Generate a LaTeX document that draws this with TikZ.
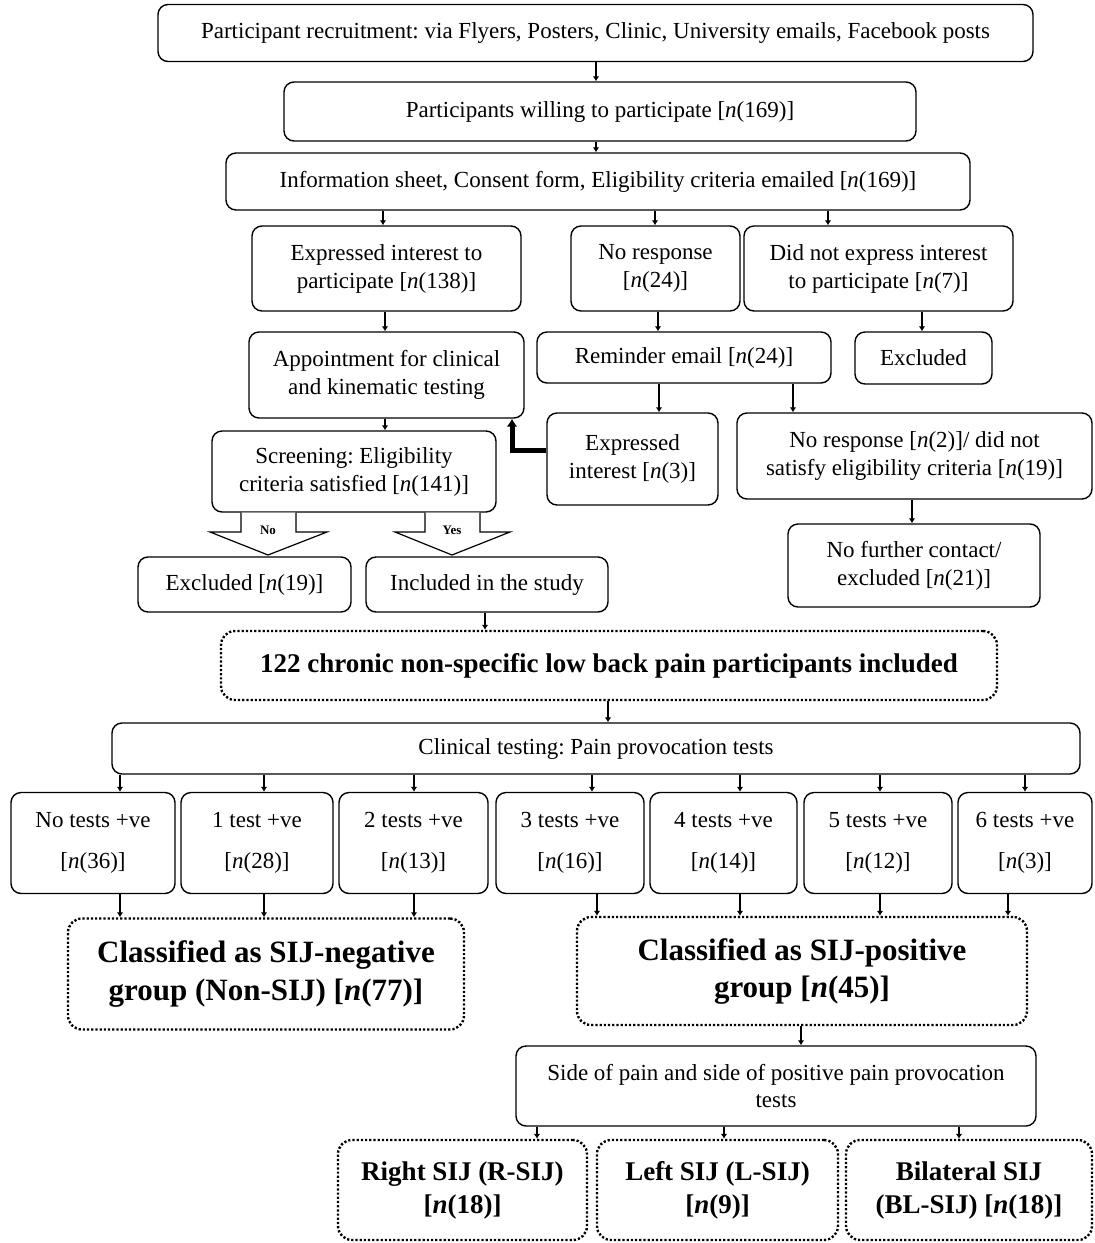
\documentclass[tikz,border=0pt]{standalone}
\usepackage{fontspec}
\setmainfont{Liberation Serif}
\usetikzlibrary{arrows.meta}
\frenchspacing
\tikzset{
  box/.style={draw, line width=1.4pt, rounded corners=10pt, align=center, inner sep=0pt,
    font=\fontsize{23}{28}\selectfont},
  dbox/.style={draw, line width=2.4pt, dash pattern=on 2.2pt off 2pt, rounded corners=14pt,
    align=center, inner sep=0pt},
  arr/.style={line width=2.6pt, -{Latex[length=5pt,width=6.5pt]}},
  bigarr/.style={line width=5pt, -{Latex[length=8pt,width=11pt]}},
  blockarr/.style={draw, line width=1.2pt, fill=white},
  blocklbl/.style={font=\bfseries\fontsize{13}{15}\selectfont},
}
\begin{document}
\begin{tikzpicture}[x=1pt,y=-1pt]
\useasboundingbox (0,0) rectangle (1095,1243);

% top chain
\node[box, minimum width=875pt, minimum height=57pt] (rec) at (595.5,33)
  {Participant recruitment: via Flyers, Posters, Clinic, University emails, Facebook posts};
\node[box, minimum width=632pt, minimum height=59pt] (will) at (600,111.5)
  {Participants willing to participate [\textit{n}(169)]};
\node[box, minimum width=744pt, minimum height=57pt] (info) at (598,181.5)
  {Information sheet, Consent form, Eligibility criteria emailed [\textit{n}(169)]};

\node[box, minimum width=269pt, minimum height=85pt] (expr) at (386.5,268.5)
  {Expressed interest to\\ participate [\textit{n}(138)]};
\node[box, minimum width=169pt, minimum height=85pt] (nores) at (655.5,268.5)
  {No response\\{}[\textit{n}(24)]};
\node[box, minimum width=269pt, minimum height=85pt] (didnot) at (878.5,268.5)
  {Did not express interest\\ to participate [\textit{n}(7)]};

\node[box, minimum width=275pt, minimum height=86pt] (appt) at (386.5,375)
  {Appointment for clinical\\ and kinematic testing};
\node[box, minimum width=294pt, minimum height=51pt] (remind) at (684,357.5)
  {Reminder email [\textit{n}(24)]};
\node[box, minimum width=137pt, minimum height=52pt] (excl1) at (923.5,358)
  {Excluded};

\node[box, minimum width=284pt, minimum height=81pt] (screen) at (354,471.5)
  {Screening: Eligibility\\ criteria satisfied [\textit{n}(141)]};
\node[box, minimum width=171pt, minimum height=92pt] (expr3) at (632.5,459)
  {Expressed\\ interest [\textit{n}(3)]};
\node[box, minimum width=355pt, minimum height=86pt] (nores2) at (914.5,456)
  {No response [\textit{n}(2)]/ did not\\ satisfy eligibility criteria [\textit{n}(19)]};
\node[box, minimum width=252pt, minimum height=83pt] (nofurther) at (914,565.5)
  {No further contact/\\ excluded [\textit{n}(21)]};

\node[box, minimum width=213pt, minimum height=55pt] (excl19) at (244.5,584.5)
  {Excluded [\textit{n}(19)]};
\node[box, minimum width=242pt, minimum height=55pt] (incl) at (487,584.5)
  {Included in the study};

\node[dbox, minimum width=776pt, minimum height=69pt, font=\bfseries\fontsize{27}{32}\selectfont] (chronic) at (609,665.5)
  {122 chronic non-specific low back pain participants included};
\node[box, minimum width=968pt, minimum height=51pt] (clin) at (596,748.5)
  {Clinical testing: Pain provocation tests};

% tests
\node[box, minimum width=164pt, minimum height=101pt] (t0) at (93,843)   {No tests +ve\\[13pt]{}[\textit{n}(36)]};
\node[box, minimum width=152pt, minimum height=101pt] (t1) at (257,843)  {1 test +ve\\[13pt]{}[\textit{n}(28)]};
\node[box, minimum width=149pt, minimum height=101pt] (t2) at (413.5,843){2 tests +ve\\[13pt]{}[\textit{n}(13)]};
\node[box, minimum width=148pt, minimum height=101pt] (t3) at (570,843)  {3 tests +ve\\[13pt]{}[\textit{n}(16)]};
\node[box, minimum width=147pt, minimum height=101pt] (t4) at (723.5,843){4 tests +ve\\[13pt]{}[\textit{n}(14)]};
\node[box, minimum width=148pt, minimum height=101pt] (t5) at (878,843)  {5 tests +ve\\[13pt]{}[\textit{n}(12)]};
\node[box, minimum width=134pt, minimum height=101pt] (t6) at (1025,843) {6 tests +ve\\[13pt]{}[\textit{n}(3)]};

\node[dbox, minimum width=396pt, minimum height=111pt, font=\bfseries\fontsize{31}{38}\selectfont] (neg) at (266,974)
  {Classified as SIJ-negative\\ group (Non-SIJ) [\textit{n}(77)]};
\node[dbox, minimum width=450pt, minimum height=108pt, font=\bfseries\fontsize{31}{37}\selectfont] (pos) at (802,971)
  {Classified as SIJ-positive\\ group [\textit{n}(45)]};

\node[box, minimum width=520pt, minimum height=80pt, font=\fontsize{23}{27}\selectfont] (side) at (776,1086)
  {Side of pain and side of positive pain provocation\\ tests};

\node[dbox, minimum width=249pt, minimum height=100pt, font=\bfseries\fontsize{27}{33}\selectfont] (right) at (462.5,1190)
  {Right SIJ (R-SIJ)\\{}[\textit{n}(18)]};
\node[dbox, minimum width=241pt, minimum height=100pt, font=\bfseries\fontsize{27}{33}\selectfont] (left) at (717.5,1190)
  {Left SIJ (L-SIJ)\\{}[\textit{n}(9)]};
\node[dbox, minimum width=246pt, minimum height=100pt, font=\bfseries\fontsize{27}{33}\selectfont] (bil) at (969,1190)
  {Bilateral SIJ\\ (BL-SIJ) [\textit{n}(18)]};

% connectors
\draw[arr] (rec.south -| 596,0) -- (will.north -| 596,0);
\draw[arr] (will.south -| 596,0) -- (info.north -| 596,0);
\draw[arr] (info.south -| 383,0) -- (expr.north -| 383,0);
\draw[arr] (info.south -| 655,0) -- (nores.north -| 655,0);
\draw[arr] (info.south -| 828,0) -- (didnot.north -| 828,0);
\draw[arr] (expr.south -| 385,0) -- (appt.north -| 385,0);
\draw[arr] (nores.south -| 658,0) -- (remind.north -| 658,0);
\draw[arr] (didnot.south -| 922,0) -- (excl1.north -| 922,0);
\draw[arr] (appt.south -| 385,0) -- (screen.north -| 385,0);
\draw[arr] (remind.south -| 659,0) -- (expr3.north -| 659,0);
\draw[arr] (remind.south -| 793,0) -- (nores2.north -| 793,0);
\draw[arr] (nores2.south -| 912,0) -- (nofurther.north -| 912,0);
\draw[bigarr] (expr3.west |- 0,450) -| (appt.south -| 512,0);
\draw[arr] (incl.south -| 485,0) -- (chronic.north -| 485,0);
\draw[arr] (chronic.south -| 608,0) -- (clin.north -| 608,0);
\foreach \n/\x in {t0/120, t1/264, t2/414, t3/592, t4/740, t5/880, t6/1025}
  \draw[arr] (clin.south -| \x,0) -- (\n.north -| \x,0);
\foreach \n/\x in {t0/120, t1/264, t2/414}
  \draw[arr] (\n.south -| \x,0) -- (neg.north -| \x,0);
\foreach \n/\x in {t3/597, t4/740, t5/880, t6/1008}
  \draw[arr] (\n.south -| \x,0) -- (pos.north -| \x,0);
\draw[arr] (pos.south -| 801,0) -- (side.north -| 801,0);
\draw[arr] (side.south -| 537,0) -- (right.north -| 537,0);
\draw[arr] (side.south -| 724,0) -- (left.north -| 724,0);
\draw[arr] (side.south -| 959,0) -- (bil.north -| 959,0);

% block arrows
\draw[blockarr] (241,512.5) -- (241,532) -- (210,532) -- (268,555) -- (327,532) -- (296,532) -- (296,512.5);
\draw[blockarr] (425,512.5) -- (425,532) -- (395,532) -- (452,555) -- (510,532) -- (480,532) -- (480,512.5);
\node[blocklbl] (nolbl) at (268,530) {No};
\node[blocklbl] (yeslbl) at (452,530) {Yes};
\end{tikzpicture}
\end{document}
